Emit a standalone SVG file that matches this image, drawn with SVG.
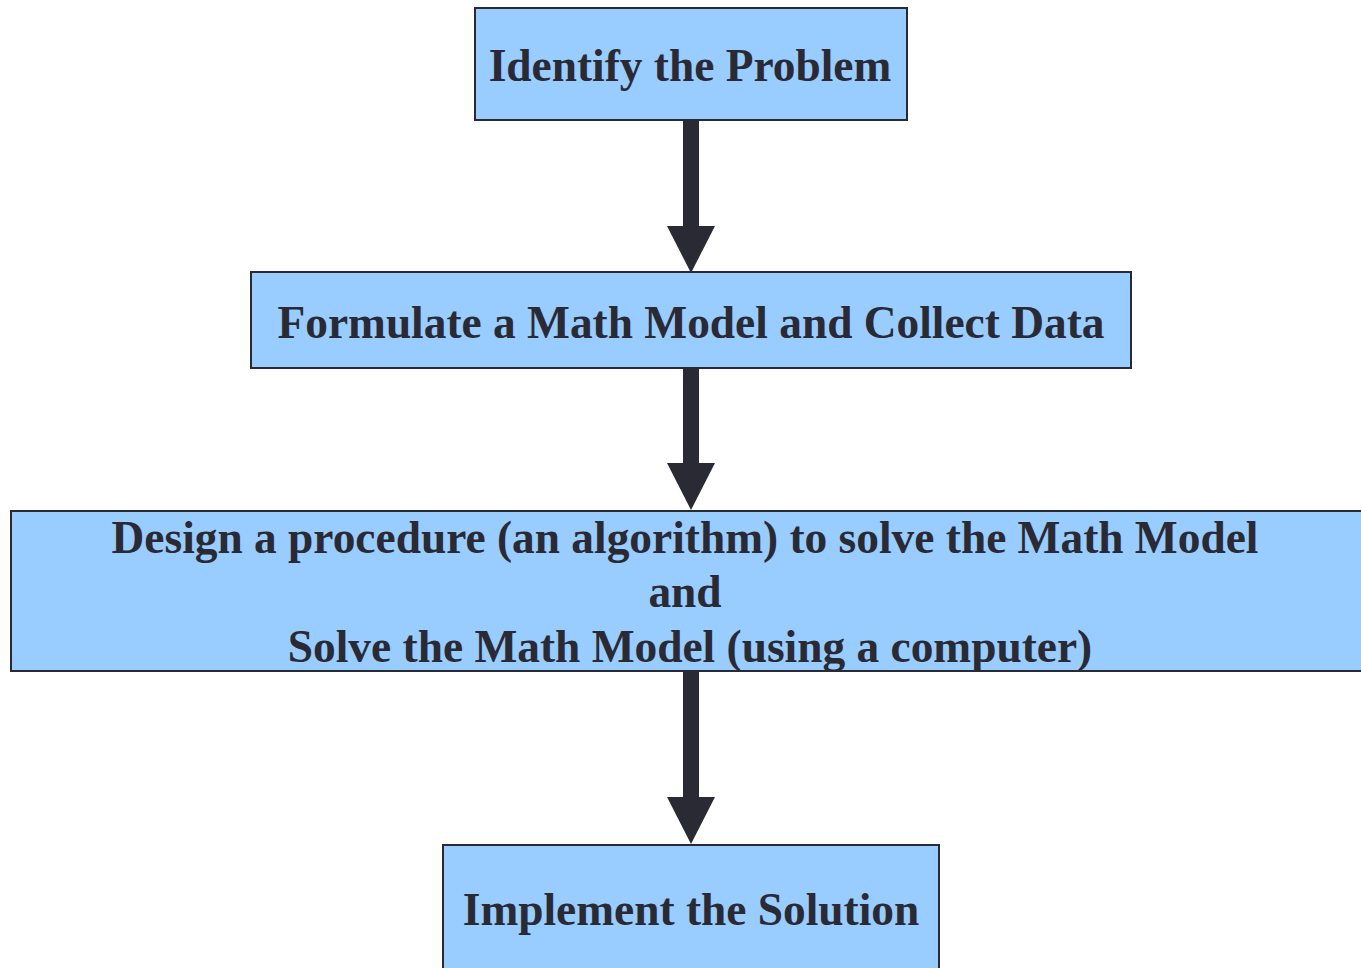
<svg xmlns="http://www.w3.org/2000/svg" width="1361" height="968" viewBox="0 0 1361 968">
  <style>
    .box { fill: #99ccff; stroke: #2a2a35; stroke-width: 2; }
    .label { font-family: "Liberation Serif", "Times New Roman", serif; font-weight: bold; font-size: 45.4px; fill: #2a2a35; text-anchor: middle; }
    .shaft { stroke: #2a2a35; stroke-width: 16; fill: none; }
    .head { fill: #2a2a35; }
  </style>
  <rect width="1361" height="968" fill="#ffffff"/>

  <g id="connectors">
    <line class="shaft" x1="691" y1="120" x2="691" y2="230"/>
    <polygon class="head" points="667,226 715,226 691,273"/>
    <line class="shaft" x1="691" y1="368" x2="691" y2="467"/>
    <polygon class="head" points="667,463 715,463 691,510"/>
    <line class="shaft" x1="691" y1="671" x2="691" y2="801"/>
    <polygon class="head" points="667,797 715,797 691,844"/>
  </g>

  <g id="identify">
    <rect class="box" x="475" y="8" width="432" height="112"/>
    <text class="label" x="690" y="81">Identify the Problem</text>
  </g>

  <g id="formulate">
    <rect class="box" x="251" y="272" width="880" height="96"/>
    <text class="label" x="691" y="338">Formulate a Math Model and Collect Data</text>
  </g>

  <g id="design">
    <rect class="box" x="11" y="511" width="1360" height="160"/>
    <text class="label" x="685" y="553">Design a procedure (an algorithm) to solve the Math Model</text>
    <text class="label" x="685" y="607">and</text>
    <text class="label" x="690" y="662">Solve the Math Model (using a computer)</text>
  </g>

  <g id="implement">
    <rect class="box" x="443" y="845" width="496" height="140"/>
    <text class="label" x="691" y="925">Implement the Solution</text>
  </g>
</svg>
